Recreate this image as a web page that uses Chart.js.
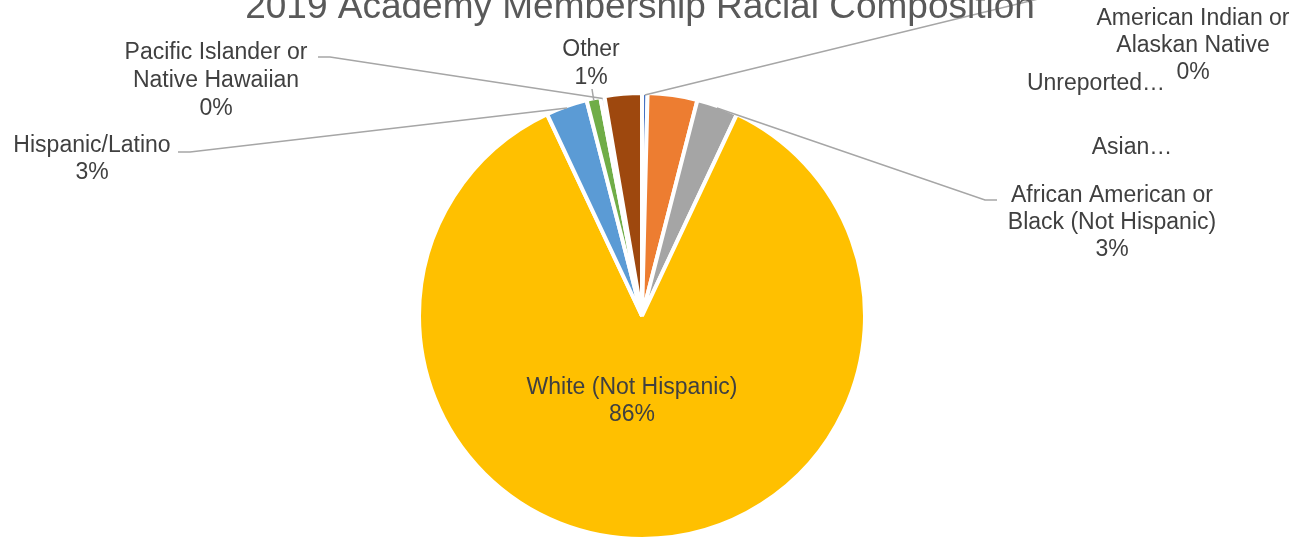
<!DOCTYPE html>
<html lang="en">
<head>
    <meta charset="UTF-8">
    <title>2019 Academy Membership Racial Composition</title>
    <script src="https://cdn.jsdelivr.net/npm/chart.js@4.4.1/dist/chart.umd.min.js"></script>
    <style>
        body {
            margin: 0;
            background: #fff;
            overflow: hidden;
        }
        #wrap {
            width: 1310px;
            height: 539px;
        }
    </style>
</head>
<body>
    <div id="wrap"><canvas id="myChart"></canvas></div>
    <script>
        const categories = [
            "American Indian or Alaskan Native",
            "Asian",
            "African American or Black (Not Hispanic)",
            "White (Not Hispanic)",
            "Hispanic/Latino",
            "Other",
            "Pacific Islander or Native Hawaiian",
            "Unreported"
        ];
        const shares = [0.4, 3.6, 3.0, 86.0, 3.0, 1.0, 0.3, 2.7];
        const sliceColors = ["#4472C4", "#ED7D31", "#A5A5A5", "#FFC000", "#5B9BD5", "#70AD47", "#264478", "#9E480E"];

        const titleText = "2019 Academy Membership Racial Composition";

        // label placement, roughly as Excel laid it out
        const labelLayout = [
            { lines: ["American Indian or", "Alaskan Native"], pct: true, x: 1193, y: 19, lh: 27, leader: [[1075, -10]] },
            { lines: ["Asian\u2026"], pct: false, x: 1132, y: 148, lh: 27, leader: null },
            { lines: ["African American or", "Black (Not Hispanic)"], pct: true, x: 1112, y: 196, lh: 27, leader: [[985, 200], [997, 200]] },
            { lines: ["White (Not Hispanic)"], pct: true, x: 632, y: 388, lh: 27, leader: null },
            { lines: ["Hispanic/Latino"], pct: true, x: 92, y: 146, lh: 27, leader: [[190, 152], [178, 152]] },
            { lines: ["Other"], pct: true, x: 591, y: 50, lh: 28, leader: [[592, 89]] },
            { lines: ["Pacific Islander or", "Native Hawaiian"], pct: true, x: 216, y: 53, lh: 28, leader: [[330, 57], [318, 57]] },
            { lines: ["Unreported\u2026"], pct: false, x: 1096, y: 84, lh: 27, leader: null }
        ];

        const labelPlugin = {
            id: 'pieLabels',
            afterDatasetsDraw(chart) {
                const ctx = chart.ctx;
                const meta = chart.getDatasetMeta(0);
                ctx.save();
                // leader lines
                ctx.strokeStyle = "#A6A6A6";
                ctx.lineWidth = 1.5;
                meta.data.forEach((arc, i) => {
                    const lay = labelLayout[i];
                    if (!lay.leader) return;
                    const p = arc.getProps(['x', 'y', 'startAngle', 'endAngle', 'outerRadius'], true);
                    const mid = (p.startAngle + p.endAngle) / 2;
                    const r = p.outerRadius - 2;
                    ctx.beginPath();
                    ctx.moveTo(p.x + Math.cos(mid) * r, p.y + Math.sin(mid) * r);
                    lay.leader.forEach(pt => ctx.lineTo(pt[0], pt[1]));
                    ctx.stroke();
                });
                // texts
                ctx.fillStyle = "#404040";
                ctx.font = "23px 'Liberation Sans', Arial, sans-serif";
                ctx.textAlign = "center";
                ctx.textBaseline = "middle";
                const total = shares.reduce((a, b) => a + b, 0);
                labelLayout.forEach((lay, i) => {
                    const lines = lay.lines.slice();
                    if (lay.pct) lines.push(Math.round(shares[i] / total * 100) + "%");
                    lines.forEach((t, k) => ctx.fillText(t, lay.x, lay.y + k * lay.lh));
                });
                // title
                ctx.fillStyle = "#595959";
                ctx.font = "37px 'Liberation Sans', Arial, sans-serif";
                ctx.textBaseline = "alphabetic";
                ctx.fillText(titleText, 640, 18);
                ctx.restore();
            }
        };

        const ctx = document.getElementById("myChart").getContext('2d');
        const myChart = new Chart(ctx, {
            type: 'pie',
            data: {
                labels: categories,
                datasets: [{
                    data: shares,
                    backgroundColor: sliceColors,
                    borderColor: "#ffffff",
                    borderWidth: 4
                }]
            },
            options: {
                responsive: true,
                maintainAspectRatio: false,
                animation: false,
                radius: 223,
                layout: {
                    padding: { top: 93, bottom: 0, left: 0, right: 26 }
                },
                plugins: {
                    legend: { display: false },
                    title: { display: false },
                    tooltip: { enabled: false }
                }
            },
            plugins: [labelPlugin]
        });
    </script>
</body>
</html>
